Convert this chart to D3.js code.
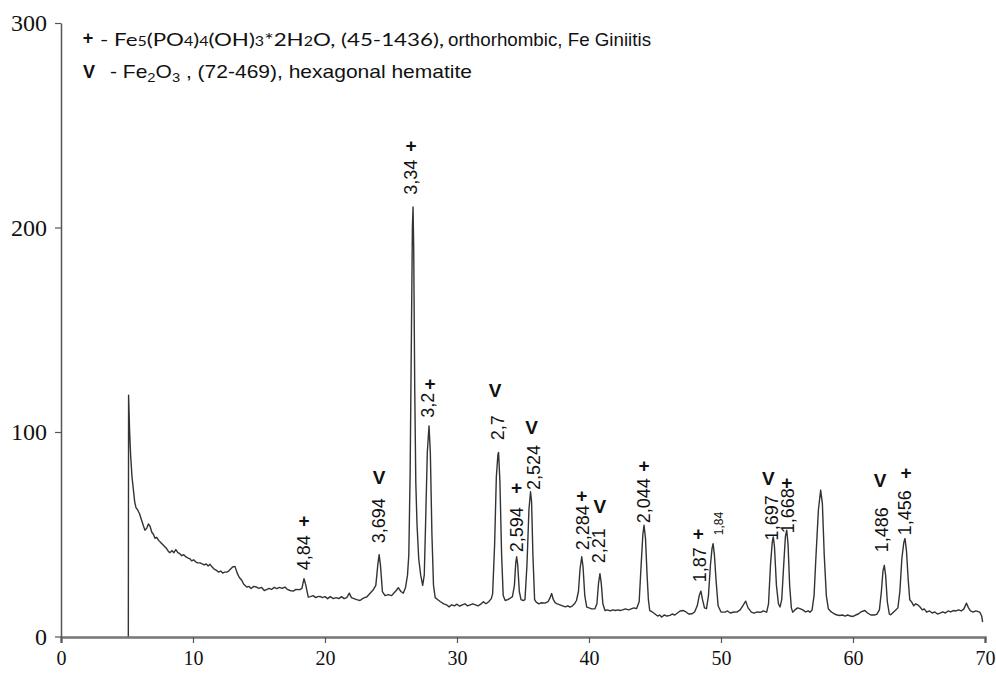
<!DOCTYPE html>
<html><head><meta charset="utf-8">
<script src="https://cdn.jsdelivr.net/npm/d3@7"></script>
<style>body{margin:0;background:#fff}svg{display:block}</style>
</head><body>
<svg id="chart" width="996" height="673"></svg>
<script>
// 2-theta (degrees)
const twoTheta = [5.10,5.12,5.20,5.28,5.38,5.48,5.58,5.68,5.80,5.95,6.10,6.25,6.36,6.50,6.62,6.74,6.88,7.00,7.12,7.25,7.40,7.55,7.70,7.85,8.00,8.15,8.26,8.40,8.55,8.70,8.85,9.00,9.15,9.30,9.45,9.60,9.77,9.90,10.05,10.20,10.35,10.53,10.70,10.85,11.00,11.15,11.29,11.45,11.60,11.75,11.92,12.10,12.25,12.40,12.55,12.70,12.85,13.00,13.18,13.35,13.50,13.69,13.85,14.07,14.25,14.40,14.60,14.80,15.00,15.20,15.40,15.58,15.75,15.95,16.15,16.34,16.55,16.75,16.97,17.15,17.35,17.60,17.80,18.10,18.25,18.41,18.55,18.73,18.90,19.10,19.30,19.45,19.62,19.80,20.00,20.20,20.40,20.63,20.85,21.05,21.25,21.45,21.65,21.84,22.00,22.20,22.40,22.65,22.85,23.00,23.16,23.40,23.66,23.85,24.00,24.10,24.20,24.35,24.55,24.80,25.05,25.25,25.40,25.55,25.75,25.93,26.10,26.25,26.35,26.45,26.55,26.62,26.67,26.72,26.80,26.88,26.97,27.10,27.25,27.40,27.52,27.62,27.75,27.88,27.98,28.10,28.22,28.35,28.55,28.75,29.00,29.20,29.40,29.60,29.80,30.00,30.20,30.40,30.60,30.80,31.00,31.20,31.40,31.60,31.80,32.00,32.20,32.40,32.60,32.70,32.85,32.98,33.10,33.15,33.25,33.38,33.50,33.65,33.85,34.00,34.20,34.35,34.45,34.52,34.60,34.72,34.85,35.02,35.15,35.30,35.45,35.57,35.65,35.75,35.88,36.00,36.20,36.40,36.67,36.90,37.05,37.17,37.30,37.45,37.60,37.80,38.00,38.20,38.40,38.56,38.75,38.90,39.05,39.20,39.32,39.45,39.55,39.68,39.83,40.00,40.20,40.45,40.60,40.72,40.83,40.93,41.05,41.21,41.40,41.60,41.80,42.00,42.20,42.35,42.55,42.75,43.00,43.20,43.40,43.60,43.80,43.95,44.08,44.17,44.28,44.40,44.50,44.60,44.80,45.00,45.20,45.35,45.50,45.70,45.90,46.14,46.30,46.50,46.70,46.90,47.15,47.35,47.55,47.80,48.00,48.20,48.35,48.48,48.60,48.75,48.90,49.05,49.20,49.32,49.40,49.50,49.62,49.78,50.00,50.30,50.50,50.70,51.00,51.20,51.45,51.65,51.87,52.05,52.30,52.50,52.75,53.00,53.20,53.46,53.60,53.75,53.88,53.96,54.05,54.20,54.35,54.47,54.60,54.75,54.88,54.98,55.08,55.20,55.33,55.43,55.60,55.80,55.98,56.20,56.40,56.60,56.74,56.90,57.05,57.20,57.38,57.55,57.68,57.82,57.98,58.13,58.35,58.60,58.80,59.00,59.20,59.40,59.60,59.80,60.00,60.20,60.40,60.60,60.90,61.10,61.35,61.60,61.80,62.00,62.15,62.27,62.37,62.47,62.60,62.75,62.85,63.00,63.20,63.40,63.55,63.70,63.85,63.94,64.05,64.18,64.30,64.45,64.60,64.75,64.90,65.08,65.25,65.40,65.58,65.80,66.00,66.20,66.40,66.60,66.80,67.00,67.20,67.40,67.60,67.80,68.00,68.20,68.40,68.60,68.75,68.90,69.10,69.30,69.60,69.75,69.82];
// intensity
const intensity = [0,118,100,88,78,72,66,63,62,60,57,54,52,53,55,54,51,50,48,48.5,47,46,45,44,43,41.5,41,42,41,42.5,41,40.5,39.5,40,39,38.5,38,37,37.5,36.5,36,36,35.5,35,35.5,34.5,35.3,34,33,32.5,31.5,32,31,31.5,31.5,32,33,34,34.3,31,29,27.5,25.5,24.2,24.5,23.5,24.5,24.2,23.5,24,22.5,22.9,23.5,23,24,23.4,24,23.5,24.2,23,22.5,22.2,23,22.9,23.5,28.3,25,19.3,19.5,20,19,19.5,19.6,19,19.5,18.5,19.5,18.5,19,18.5,19.5,18.5,19,21.2,19,18.5,18,17.6,18.5,19,19.3,21,22.9,25,35,40,35,22,20,20.5,20,21.5,22.5,23.9,22,21.2,24,30,40,80,150,200,210,190,120,75,55,38,30,25,30,55,90,103,90,50,25,19,18,17,16,15.5,14.5,15.5,15,15.8,14.8,15.5,16,15,15.5,16,15.5,15,15.8,17,16,17,18.5,21,45,78,89,90,76,40,20,17.6,18,18.6,19.5,25,36,39,35,22,18,17.6,18,35,62,70.8,66,40,18,16.8,16,16.5,16.3,17,19,21,18,16.5,16,15.5,15,14.5,15,14.4,15,16,17.6,22,33,39,34,20,14.4,14,13.5,13.6,16,26,30.7,26,16,12.7,13,12.5,13,12.7,13,12.7,13,13.5,13,13.5,14,13.6,17,35,50,54.4,48,30,18,12.7,12,11,10,10.5,9.5,10.5,10,10.3,11,10.5,11.5,12.5,12.7,12,11,11.1,12,15,20,22.2,18,14,13.6,20,35,43,45.4,40,28,15,12,11.9,12.5,11.5,12,11.9,13,15,17.3,14,11.9,11.4,12,11.8,12.5,11.9,16,35,46,48.7,44,25,16,14.4,18,35,49,52,45,25,14,11.9,13,14,13.6,13,12,12.5,11.9,13,20,40,62,71.6,65,40,20,13.6,12,11,10.5,10.3,10.5,10,10.5,10,9.8,10.5,11,12,12.7,11.5,10.5,10.5,10.8,13,22,32,34.8,30,17,11,10.6,11.5,12.7,14,22,38,46,47.9,42,28,18,16.8,15,16,15.5,14.4,13,13.5,11.9,12.5,11.5,12,11,11.4,12,11.5,12.5,12,12.7,12.5,13,12.5,13.5,16.3,14,12.5,11.9,12.5,11.9,10,7];

const xTicks = [0,10,20,30,40,50,60,70];
const yTicks = [0,100,200,300];

// peak annotations: d-spacing label, 2theta, label foot intensity, phase symbol, symbol position
const peakText   = ["4,84","3,694","3,34","3,2","2,7","2,594","2,524","2,284","2,21","2,044","1,87","1,84","1,697","1,668","1,486","1,456"];
const peakPos    = [18.41,24.1,26.52,27.8,33.1,34.55,35.78,39.49,40.7,44.17,48.4,49.8,53.84,55.05,62.17,63.94];
const peakFoot   = [32.4,45.6,216,107,96,41.2,71.6,42.2,35.8,55.4,26.5,49.5,47,50.5,41.2,49.5];
const peakSymbol = ["+","V","+","+","V","+","V","+","V","+","+","","V","+","V","+"];
const symbolX    = [18.41,24.1,26.52,27.95,32.88,34.52,35.66,39.45,40.83,44.17,48.28,null,53.58,54.98,62.05,64.02];
const symbolY    = [57,78,240,124,120.6,73,102.5,69,63.7,83.8,50.5,null,77.5,75.5,76.5,80.4];
const smallLabel = ["1,84"];

const svg = d3.select("#chart");
const x = d3.scaleLinear().domain([0,70]).range([61,985]);
const y = d3.scaleLinear().domain([0,300]).range([636.5,23]);

// axes
const xAxis = svg.append("g").attr("transform","translate(0,637)")
  .call(d3.axisBottom(x).tickValues(xTicks).tickSize(6).tickPadding(8).tickFormat(d3.format("d")));
xAxis.select(".domain").attr("stroke","#777").attr("stroke-width",2.5);
xAxis.selectAll(".tick line").attr("stroke","#555").attr("stroke-width",1.2);
xAxis.selectAll("text").attr("font-family","Liberation Serif").attr("font-size",20).attr("fill","#111");

const yAxis = svg.append("g").attr("transform","translate(61,0)")
  .call(d3.axisLeft(y).tickValues(yTicks).tickSize(6).tickPadding(8).tickSizeOuter(0).tickFormat(d3.format("d")));
yAxis.select(".domain").attr("stroke","#555").attr("stroke-width",1.5);
yAxis.selectAll(".tick line").attr("stroke","#555").attr("stroke-width",1.2);
yAxis.selectAll("text").attr("font-family","Liberation Serif").attr("font-size",24).attr("fill","#111");

// pattern line
const pts = twoTheta.map((t,i)=>[t,intensity[i]]);
svg.append("path").datum(pts)
  .attr("fill","none").attr("stroke","#333").attr("stroke-width",1.4).attr("stroke-linejoin","round")
  .attr("d", d3.line().x(d=>x(d[0])).y(d=>y(d[1])));

// peak labels
const ann = svg.append("g");
peakText.forEach((t,i)=>{
  const small = smallLabel.includes(t);
  ann.append("text")
    .attr("transform",`translate(${x(peakPos[i])},${y(peakFoot[i])}) rotate(-90)`)
    .attr("dy","0.35em")
    .attr("font-family","Liberation Sans, Arial, sans-serif")
    .attr("font-size", small ? 12 : 18)
    .attr("fill","#111")
    .text(t);
  if (peakSymbol[i]) {
    ann.append("text")
      .attr("x",x(symbolX[i])).attr("y",y(symbolY[i])).attr("dy","0.35em")
      .attr("text-anchor","middle")
      .attr("font-family","Liberation Sans, Arial, sans-serif")
      .attr("font-weight","bold").attr("font-size",19).attr("fill","#111")
      .text(peakSymbol[i]);
  }
});

// legend
const leg = svg.append("g").attr("fill","#111");
leg.append("text").attr("x",88).attr("y",38).attr("dy","0.35em").attr("text-anchor","middle")
  .attr("font-family","Liberation Sans").attr("font-weight","bold").attr("font-size",18).text("+");
const l1 = leg.append("text").attr("x",100).attr("y",46)
  .attr("font-family","Lato, 'Open Sans', sans-serif").attr("font-size",17.5)
  .attr("textLength",344).attr("lengthAdjust","spacingAndGlyphs");
[["- Fe",0],["5",1],["(PO",0],["4",1],[")",0],["4",1],["(OH)",0],["3",1],["*2H",0],["2",1],["O, (45-1436),",0]]
  .forEach(([s,sub])=>l1.append("tspan").attr("font-size", sub?12.5:17.5).text(s));
leg.append("text").attr("x",448).attr("y",46)
  .attr("font-family","Liberation Sans").attr("font-size",18.5)
  .attr("textLength",203).attr("lengthAdjust","spacingAndGlyphs")
  .text("orthorhombic, Fe Giniitis");
leg.append("text").attr("x",89).attr("y",72).attr("dy","0.35em").attr("text-anchor","middle")
  .attr("font-family","Liberation Sans").attr("font-weight","bold").attr("font-size",18).text("V");
const l2 = leg.append("text").attr("x",110).attr("y",78)
  .attr("font-family","Liberation Sans").attr("font-size",18.5)
  .attr("textLength",362).attr("lengthAdjust","spacingAndGlyphs");
[["-  Fe",0],["2",1],["O",0],["3",1],[" , (72-469), hexagonal hematite",0]]
  .forEach(([s,sub])=>{const ts=l2.append("tspan").text(s);
    if(sub){ts.attr("font-size",13).attr("dy",4);} else if(s!=="-  Fe"){ts.attr("dy",-4);} });
</script>
</body></html>
